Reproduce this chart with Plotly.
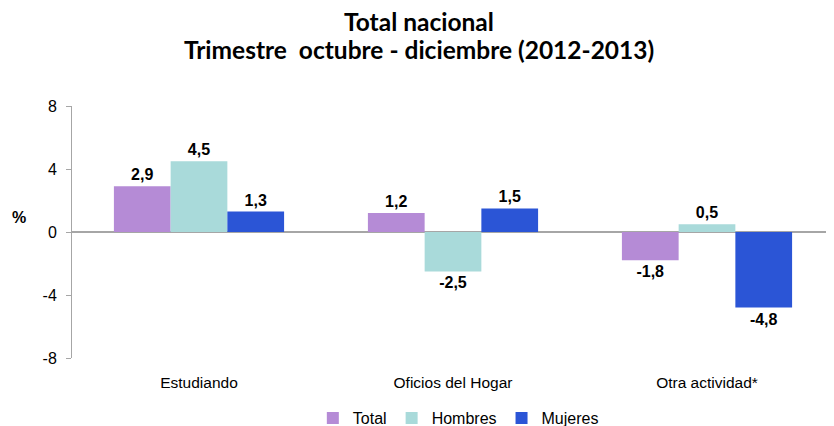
import plotly.graph_objects as go

categories = ["Estudiando", "Oficios del Hogar", "Otra actividad*"]
total = [2.9, 1.2, -1.8]
hombres = [4.5, -2.5, 0.5]
mujeres = [1.3, 1.5, -4.8]
series_names = ["Total", "Hombres", "Mujeres"]
y_ticks = [-8, -4, 0, 4, 8]
colors = ["#B58BD6", "#A9DADA", "#2B55D6"]


def fmt(v):
    return f"{v:.1f}".replace(".", ",")


fig = go.Figure()
for name, vals, c in zip(series_names, [total, hombres, mujeres], colors):
    fig.add_trace(go.Bar(
        name=name, x=categories, y=vals,
        marker=dict(color=c, line=dict(width=0)),
        text=[fmt(v) for v in vals], textposition="outside",
        textfont=dict(family="Liberation Sans, Arial", size=16, color="black", weight="bold"),
        cliponaxis=False,
    ))

fig.update_layout(
    width=826, height=430,
    barmode="group", bargap=0.33, bargroupgap=0,
    plot_bgcolor="white", paper_bgcolor="white",
    margin=dict(l=64, r=0, t=98, b=80),
    font=dict(family="Liberation Sans, Arial", size=15, color="black"),
    showlegend=True,
    legend=dict(orientation="h", x=0.507, xanchor="center", y=-0.238, yanchor="middle",
                font=dict(size=16), itemwidth=30, traceorder="normal"),
    xaxis=dict(showline=False, ticks="outside", ticklen=10, tickcolor="rgba(0,0,0,0)",
               showgrid=False, zeroline=False,
               tickfont=dict(size=15.5), automargin=False),
    yaxis=dict(range=[-8, 8], tickvals=y_ticks, ticktext=[str(t) for t in y_ticks],
               showgrid=False, zeroline=True, zerolinecolor="#A6A6A6",
               zerolinewidth=1.5, showline=True, linecolor="#A6A6A6", linewidth=1,
               ticks="outside", tickcolor="#A6A6A6", ticklen=5, ticklabelstandoff=6,
               tickfont=dict(size=16), automargin=False),
    annotations=[
        dict(text="<b>%</b>", xref="paper", yref="paper", x=-0.0696, y=0.556,
             xanchor="center", yanchor="middle", showarrow=False, font=dict(size=16)),
        dict(text="<b>Total nacional</b>", xref="paper", yref="paper", x=0.455, y=1.337,
             xanchor="center", yanchor="middle", showarrow=False,
             font=dict(family="Lato, Open Sans", size=24.5, color="black")),
        dict(text="<b>Trimestre  octubre - diciembre (2012-2013)</b>", xref="paper", yref="paper",
             x=0.455, y=1.225, xanchor="center", yanchor="middle", showarrow=False,
             font=dict(family="Lato, Open Sans", size=24.5, color="black")),
    ],
)

fig.write_html("out.html")
